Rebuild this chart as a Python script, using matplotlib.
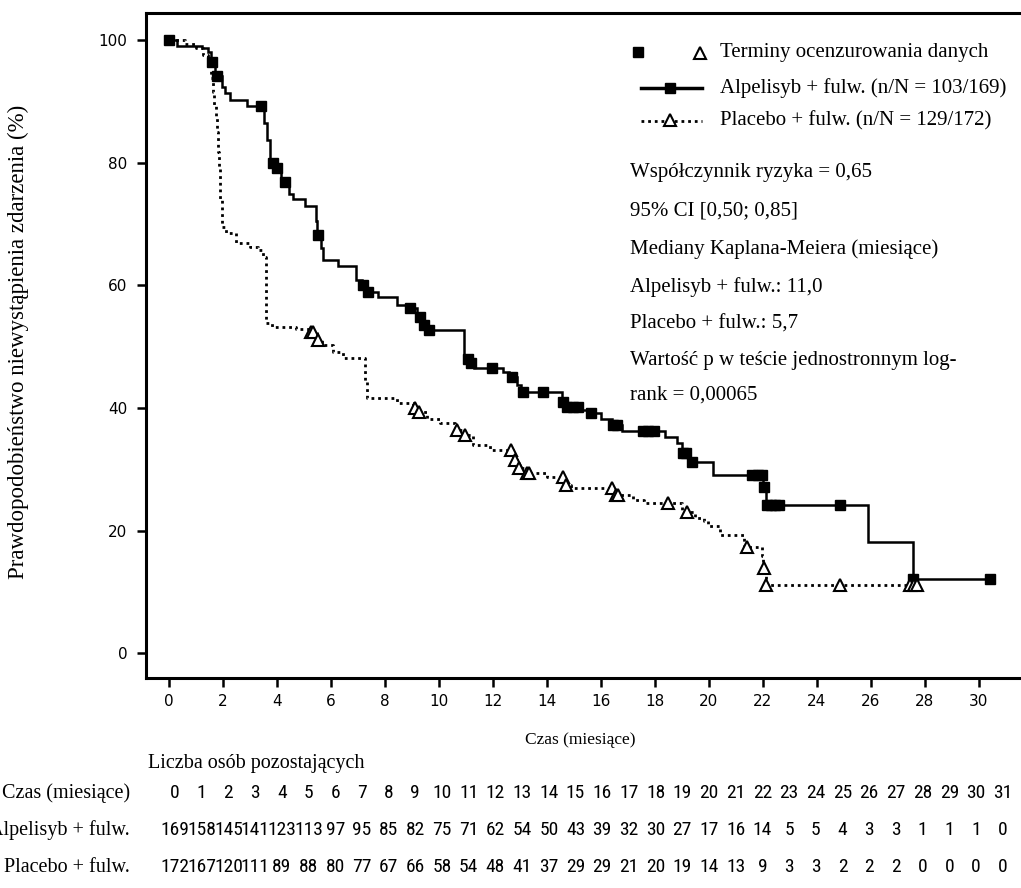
import numpy as np
import matplotlib
matplotlib.use("Agg")
import matplotlib.pyplot as plt
from matplotlib.lines import Line2D
from matplotlib import font_manager

W, H = 1021, 888
SERIF = "Liberation Serif"

# Kaplan-Meier steps (time in months, survival %)
alp_t = [0, 0.28, 1.21, 1.43, 1.55, 1.72, 1.95, 2.07, 2.25, 2.88,
         3.52, 3.62, 3.75, 3.95, 4.15, 4.45, 4.6, 5.05, 5.45, 5.5,
         5.62, 5.72, 6.27, 6.93, 7.15, 7.3, 7.75, 8.43, 8.8, 9.17,
         9.35, 9.55, 10.92, 11.15, 11.3, 12.38, 12.6, 12.9, 13.05, 14.55,
         14.65, 15.28, 15.55, 16.0, 16.4, 16.77, 18.37, 18.8, 19.0, 19.3,
         20.14, 22.0, 22.1, 25.9, 27.55]
alp_s = [100, 99.0, 98.7, 98.1, 96.5, 94.1, 92.4, 91.4, 90.3, 89.2,
         86.5, 83.7, 79.9, 79.2, 76.9, 75.0, 74.1, 72.9, 70.5, 68.3,
         66.1, 64.2, 63.1, 60.9, 60.1, 59.0, 58.2, 56.8, 56.3, 54.9,
         53.6, 52.8, 48.0, 47.3, 46.5, 45.9, 45.1, 43.8, 42.7, 41.0,
         40.2, 39.7, 39.2, 38.2, 37.2, 36.2, 35.3, 34.3, 32.6, 31.2,
         29.1, 27.2, 24.2, 18.1, 12.2]
alp_end = 30.4
alp_cens = [0.0, 1.58, 1.76, 3.40, 3.85, 4.0, 4.3, 5.53, 7.2, 7.38,
            8.93, 9.3, 9.45, 9.62, 11.09, 11.2, 11.95, 12.69, 13.12, 13.86,
            14.6, 14.75, 14.95, 15.15, 15.65, 16.45, 16.6, 17.55, 17.75, 17.95,
            19.05, 19.15, 19.36, 21.6, 21.8, 21.98, 22.05, 22.15, 22.3, 22.45,
            22.6, 24.85, 27.57, 30.4]

pla_t = [0, 0.6, 1.0, 1.27, 1.46, 1.55, 1.62, 1.68, 1.73, 1.77,
         1.81, 1.85, 1.89, 1.97, 2.1, 2.5, 3.0, 3.3, 3.5, 3.6,
         3.8, 4.7, 5.2, 5.5, 5.65, 6.09, 6.46, 7.25, 7.33, 8.45,
         9.05, 9.2, 9.54, 10.04, 10.6, 10.9, 11.27, 11.9, 12.75, 12.95,
         13.2, 14.0, 14.65, 14.9, 16.45, 17.2, 17.6, 19.0, 19.5, 19.8,
         19.95, 20.4, 21.3, 21.95, 22.0, 22.1]
pla_s = [100, 99.4, 98.8, 97.6, 96.5, 93.8, 91.6, 89.4, 87.3, 85.1,
         81.8, 79.4, 73.9, 69.6, 68.5, 66.9, 66.3, 65.8, 64.7, 53.9,
         53.3, 52.9, 52.4, 51.1, 50.3, 49.2, 48.1, 44.5, 41.6, 40.8,
         40.0, 39.4, 38.3, 37.5, 36.4, 35.6, 34.0, 33.2, 31.5, 30.2,
         29.4, 28.8, 27.5, 26.9, 25.8, 25.0, 24.5, 23.1, 22.0, 21.5,
         20.7, 19.3, 17.4, 15.8, 13.9, 11.1]
pla_end = 27.7
pla_cens = [5.25, 5.33, 5.52, 9.1, 9.25, 10.65, 10.95, 12.65, 12.8, 12.97,
            13.25, 13.35, 14.6, 14.72, 16.42, 16.55, 16.65, 18.5, 19.17, 21.4,
            22.05, 22.12, 24.85, 27.44, 27.6, 27.69]

# number at risk table
risk_months = list(range(32))
risk_alp = [169, 158, 145, 141, 123, 113, 97, 95, 85, 82, 75, 71, 62, 54, 50, 43,
            39, 32, 30, 27, 17, 16, 14, 5, 5, 4, 3, 3, 1, 1, 1, 0]
risk_pla = [172, 167, 120, 111, 89, 88, 80, 77, 67, 66, 58, 54, 48, 41, 37, 29,
            29, 21, 20, 19, 14, 13, 9, 3, 3, 2, 2, 2, 0, 0, 0, 0]

legend_labels = ["Terminy ocenzurowania danych",
                 "Alpelisyb + fulw. (n/N = 103/169)",
                 "Placebo + fulw. (n/N = 129/172)"]
stats_lines = ["Współczynnik ryzyka = 0,65",
               "95% CI [0,50; 0,85]",
               "Mediany Kaplana-Meiera (miesiące)",
               "Alpelisyb + fulw.: 11,0",
               "Placebo + fulw.: 5,7",
               "Wartość p w teście jednostronnym log-",
               "rank = 0,00065"]


def fx(px):
    return px / W


def fy(py):
    return 1 - py / H


def step_at(ts, ss, x):
    i = np.searchsorted(ts, x, side="right") - 1
    return np.asarray(ss)[i]


def pick_font(names):
    have = {f.name for f in font_manager.fontManager.ttflist}
    for n in names:
        if n in have:
            return n
    return "DejaVu Sans"


narrow = pick_font(["Liberation Sans Narrow", "DejaVu Sans Condensed", "Roboto Condensed", "Liberation Sans"])

fig = plt.figure(figsize=(W / 100, H / 100), dpi=100)
ax = fig.add_axes([fx(146), fy(678), fx(1021) - fx(146), fy(13) - fy(678)])

# curves
for ts, ss, end, ls, lw in [(alp_t, alp_s, alp_end, "-", 1.8),
                            (pla_t, pla_s, pla_end, (0, (1, 1.4)), 2.0)]:
    xs = list(ts) + [end]
    ys = list(ss) + [ss[-1]]
    ax.step(xs, ys, where="post", color="black", lw=lw, ls=ls,
            solid_joinstyle="miter")

ax.plot(alp_cens, step_at(alp_t, alp_s, alp_cens), ls="none", marker="s",
        ms=7, color="black", clip_on=False)
ax.plot(pla_cens, step_at(pla_t, pla_s, pla_cens), ls="none", marker="^",
        ms=8, mfc="white", mec="black", mew=1.5, clip_on=False)

ax.set_xlim(-0.852, 31.56)
ax.set_ylim(-4.03, 104.45)
ax.set_xticks(range(0, 31, 2))
ax.set_yticks(range(0, 101, 20))
ax.spines["right"].set_visible(False)
for s in ("left", "top", "bottom"):
    ax.spines[s].set_linewidth(2.2)
ax.tick_params(width=1.8, length=6.5, labelsize=11, colors="black", pad=5,
               labelfontfamily="DejaVu Sans")
ax.tick_params(axis="y", pad=7)

# legend (drawn by hand to copy the original layout)
fig.add_artist(Line2D([fx(638)], [fy(52)], marker="s", ms=7, color="black", ls="none"))
fig.add_artist(Line2D([fx(700)], [fy(53)], marker="^", ms=8, mfc="white",
                      mec="black", mew=1.5, ls="none"))
fig.add_artist(Line2D([fx(641), fx(702)], [fy(88)] * 2, color="black", lw=2.5))
fig.add_artist(Line2D([fx(670)], [fy(88)], marker="s", ms=7, color="black"))
fig.add_artist(Line2D([fx(641), fx(702)], [fy(121)] * 2, color="black", lw=2.0,
                      ls=(0, (1, 1.4))))
fig.add_artist(Line2D([fx(670)], [fy(120)], marker="^", ms=8, mfc="white",
                      mec="black", mew=1.5))
for lab, py in zip(legend_labels, [52, 88, 121]):
    fig.text(fx(720), fy(py), lab, family=SERIF, fontsize=15, va="center")

for line, py in zip(stats_lines, [172, 211, 249, 287, 324, 361, 395]):
    fig.text(fx(630), fy(py), line, family=SERIF, fontsize=15, va="center")

# axis titles
fig.text(fx(580), fy(740), "Czas (miesiące)", family=SERIF, fontsize=12.5,
         ha="center", va="center")
fig.text(fx(18), fy(342), "Prawdopodobieństwo niewystąpienia zdarzenia (%)",
         family=SERIF, fontsize=16.5, rotation=90, ha="center", va="center")

# number at risk
fig.text(fx(148), fy(763), "Liczba osób pozostających", family=SERIF,
         fontsize=14.5, va="center")
rows = [("Czas (miesiące)", risk_months, 793),
        ("Alpelisyb + fulw.", risk_alp, 830),
        ("Placebo + fulw.", risk_pla, 867)]
for lab, vals, py in rows:
    fig.text(fx(130), fy(py), lab, family=SERIF, fontsize=14.5, ha="right", va="center")
    for i, v in enumerate(vals):
        fig.text(fx(175 + 26.7 * i), fy(py), str(v), family=narrow, fontsize=14,
                 ha="center", va="center")

fig.savefig("out.png", dpi=100)
